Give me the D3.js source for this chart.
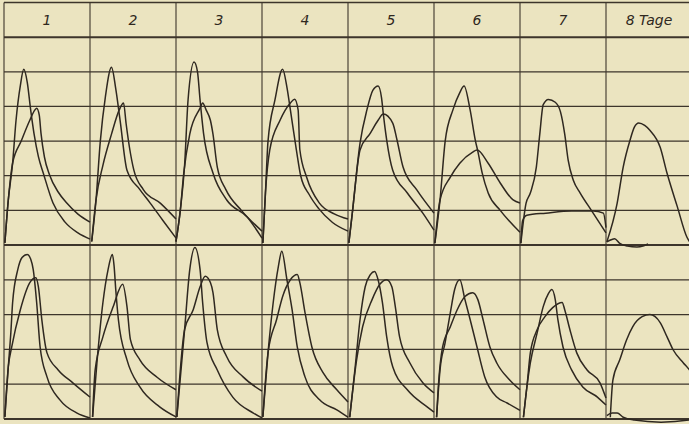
<!DOCTYPE html>
<html>
<head>
<meta charset="utf-8">
<script src="https://cdn.jsdelivr.net/npm/d3@7"></script>
<style>
  body { margin: 0; background: #ebe4c0; }
</style>
</head>
<body>
<div id="chart"></div>
<script>
// column headers (days)
const dayLabels = ["1", "2", "3", "4", "5", "6", "7", "8 Tage"];

// each day: [fraction of day, height in grid units]
// upper row, sharp early curve
const upperA = [
    [[0.01, 0.06], [0.05, 1.3], [0.1, 2.36], [0.14, 3.6], [0.19, 4.6], [0.23, 5.07], [0.27, 4.7], [0.31, 3.9], [0.35, 3.2], [0.4, 2.55], [0.46, 2.05], [0.57, 1.21], [0.71, 0.66], [0.86, 0.35], [1.0, 0.17]],
    [[0.02, 0.1], [0.07, 1.3], [0.12, 3.0], [0.18, 4.3], [0.25, 5.13], [0.3, 4.5], [0.35, 3.6], [0.43, 2.16], [0.58, 1.6], [0.7, 1.21], [0.85, 0.7], [1.0, 0.2]],
    [[0.0, 0.1], [0.05, 1.0], [0.1, 2.3], [0.14, 4.18], [0.21, 5.28], [0.25, 5.0], [0.28, 4.18], [0.32, 3.23], [0.43, 2.08], [0.59, 1.3], [0.83, 0.8], [1.0, 0.2]],
    [[0.01, 0.06], [0.04, 1.5], [0.07, 3.0], [0.15, 4.18], [0.24, 5.07], [0.29, 4.55], [0.33, 3.9], [0.4, 2.74], [0.45, 2.0], [0.55, 1.45], [0.66, 1.05], [0.82, 0.65], [1.0, 0.4]],
    [[0.01, 0.06], [0.05, 0.92], [0.14, 2.94], [0.22, 3.9], [0.29, 4.47], [0.35, 4.59], [0.39, 4.25], [0.41, 3.8], [0.45, 3.03], [0.52, 2.16], [0.69, 1.5], [0.87, 0.92], [1.0, 0.43]],
    [[0.01, 0.05], [0.07, 1.3], [0.13, 3.0], [0.22, 3.9], [0.3, 4.4], [0.35, 4.59], [0.42, 3.9], [0.48, 3.03], [0.51, 2.7], [0.56, 2.08], [0.63, 1.5], [0.77, 1.0], [1.0, 0.37]],
    [[0.01, 0.05], [0.07, 1.2], [0.12, 1.5], [0.19, 2.25], [0.23, 3.2], [0.27, 4.05], [0.33, 4.2], [0.41, 4.12], [0.47, 3.85], [0.52, 3.2], [0.56, 2.45], [0.62, 1.87], [0.7, 1.5], [0.83, 1.0], [1.0, 0.35]],
    [[0.01, 0.09], [0.13, 1.21], [0.2, 2.25], [0.28, 3.03], [0.33, 3.4], [0.38, 3.52], [0.45, 3.45], [0.51, 3.31], [0.63, 2.82], [0.71, 2.07], [0.83, 1.1], [0.94, 0.23], [1.0, 0.0]]
];

// upper row, later flatter curve
const upperB = [
    [[0.01, 0.06], [0.05, 1.3], [0.1, 2.36], [0.2, 3.0], [0.3, 3.6], [0.36, 3.9], [0.38, 3.95], [0.41, 3.75], [0.43, 3.23], [0.47, 2.54], [0.53, 2.02], [0.63, 1.53], [0.73, 1.21], [0.86, 0.89], [1.0, 0.66]],
    [[0.02, 0.1], [0.07, 1.3], [0.15, 2.3], [0.25, 3.2], [0.34, 3.9], [0.39, 4.1], [0.42, 3.5], [0.46, 2.8], [0.51, 2.16], [0.62, 1.6], [0.82, 1.2], [1.0, 0.75]],
    [[0.0, 0.1], [0.05, 1.0], [0.09, 2.07], [0.16, 3.2], [0.28, 3.95], [0.31, 4.1], [0.35, 3.9], [0.4, 3.6], [0.43, 3.2], [0.48, 2.25], [0.58, 1.6], [0.76, 1.0], [1.0, 0.4]],
    [[0.01, 0.06], [0.04, 1.5], [0.09, 2.74], [0.21, 3.6], [0.33, 4.1], [0.38, 4.21], [0.42, 3.9], [0.44, 2.75], [0.52, 1.95], [0.67, 1.2], [0.84, 0.9], [1.0, 0.75]],
    [[0.01, 0.06], [0.05, 0.92], [0.14, 2.74], [0.26, 3.23], [0.35, 3.6], [0.41, 3.78], [0.52, 3.52], [0.57, 3.03], [0.64, 2.25], [0.8, 1.59], [1.0, 0.92]],
    [[0.01, 0.05], [0.07, 1.3], [0.19, 1.96], [0.3, 2.36], [0.45, 2.68], [0.5, 2.74], [0.63, 2.36], [0.77, 1.79], [0.92, 1.3], [1.0, 1.21]],
    [[0.01, 0.05], [0.03, 0.7], [0.08, 0.86], [0.3, 0.92], [0.6, 0.98], [0.85, 0.98], [0.97, 0.92], [1.0, 0.5]],
    [[0.01, 0.09], [0.06, 0.15], [0.1, 0.18], [0.16, 0.05], [0.25, -0.03], [0.36, -0.06], [0.44, -0.02], [0.49, 0.03]]
];

// lower row, sharp early curve
const lowerA = [
    [[0.01, 0.06], [0.05, 1.5], [0.08, 2.5], [0.1, 3.34], [0.16, 4.29], [0.21, 4.64], [0.27, 4.73], [0.31, 4.6], [0.34, 4.29], [0.38, 3.34], [0.42, 2.07], [0.5, 1.21], [0.65, 0.55], [0.85, 0.17], [1.0, 0.03]],
    [[0.03, 0.06], [0.08, 1.6], [0.15, 3.34], [0.21, 4.29], [0.26, 4.73], [0.28, 4.4], [0.3, 3.7], [0.33, 2.86], [0.43, 1.7], [0.58, 0.92], [0.81, 0.35], [1.0, 0.06]],
    [[0.01, 0.06], [0.1, 2.57], [0.16, 4.29], [0.22, 4.93], [0.28, 4.29], [0.31, 3.34], [0.36, 2.2], [0.48, 1.41], [0.66, 0.63], [0.9, 0.17], [1.0, 0.03]],
    [[0.01, 0.06], [0.07, 1.9], [0.13, 3.34], [0.19, 4.38], [0.23, 4.82], [0.29, 4.0], [0.35, 3.14], [0.41, 2.07], [0.5, 1.21], [0.67, 0.55], [0.87, 0.26], [1.0, 0.05]],
    [[0.02, 0.05], [0.08, 1.41], [0.14, 2.86], [0.2, 3.8], [0.26, 4.15], [0.31, 4.24], [0.35, 4.0], [0.4, 3.35], [0.45, 2.36], [0.52, 1.5], [0.69, 0.84], [0.92, 0.35], [1.0, 0.2]],
    [[0.03, 0.05], [0.07, 1.41], [0.13, 2.2], [0.19, 3.06], [0.24, 3.72], [0.3, 4.0], [0.36, 3.43], [0.42, 2.86], [0.5, 2.07], [0.59, 1.21], [0.73, 0.63], [0.85, 0.46], [1.0, 0.25]],
    [[0.04, 0.05], [0.08, 0.92], [0.12, 1.61], [0.2, 2.48], [0.27, 3.23], [0.33, 3.6], [0.37, 3.72], [0.41, 3.43], [0.44, 2.86], [0.5, 2.07], [0.6, 1.41], [0.73, 0.92], [0.9, 0.63], [1.0, 0.4]],
    [[0.05, 0.05], [0.08, 1.12], [0.16, 1.7], [0.24, 2.28], [0.31, 2.65], [0.42, 2.94], [0.51, 3.0], [0.63, 2.77], [0.71, 2.36], [0.78, 1.99], [0.9, 1.61], [0.97, 1.41], [1.0, 1.3]]
];

// lower row, later curve
const lowerB = [
    [[0.01, 0.06], [0.05, 1.5], [0.09, 2.07], [0.19, 3.14], [0.3, 3.92], [0.37, 4.06], [0.4, 3.8], [0.44, 2.85], [0.5, 1.9], [0.63, 1.41], [0.8, 1.04], [1.0, 0.63]],
    [[0.03, 0.06], [0.06, 1.41], [0.15, 2.36], [0.27, 3.23], [0.38, 3.87], [0.43, 3.23], [0.47, 2.28], [0.58, 1.7], [0.78, 1.2], [1.0, 0.84]],
    [[0.01, 0.06], [0.1, 2.57], [0.2, 3.14], [0.28, 3.8], [0.34, 4.1], [0.4, 3.92], [0.43, 3.63], [0.48, 2.57], [0.59, 1.79], [0.78, 1.21], [1.0, 0.8]],
    [[0.01, 0.06], [0.07, 1.9], [0.17, 2.86], [0.24, 3.52], [0.33, 4.0], [0.41, 4.15], [0.44, 3.92], [0.5, 3.06], [0.58, 2.07], [0.71, 1.33], [0.87, 0.84], [1.0, 0.49]],
    [[0.02, 0.05], [0.1, 1.7], [0.17, 2.65], [0.28, 3.43], [0.37, 3.87], [0.45, 4.0], [0.51, 3.8], [0.55, 3.23], [0.6, 2.36], [0.72, 1.61], [0.87, 1.04], [1.0, 0.75]],
    [[0.03, 0.05], [0.05, 0.92], [0.1, 2.07], [0.19, 2.65], [0.27, 3.14], [0.36, 3.52], [0.45, 3.63], [0.51, 3.43], [0.57, 2.86], [0.65, 2.07], [0.73, 1.61], [0.88, 1.12], [1.0, 0.84]],
    [[0.04, 0.05], [0.08, 0.92], [0.12, 1.9], [0.2, 2.57], [0.29, 2.94], [0.38, 3.2], [0.49, 3.35], [0.52, 3.14], [0.58, 2.57], [0.66, 1.9], [0.78, 1.41], [0.93, 1.04], [1.0, 0.6]],
    [[0.01, 0.1], [0.07, 0.17], [0.13, 0.17], [0.2, 0.05], [0.33, -0.03], [0.64, -0.09], [0.97, -0.03], [1.0, 0.0]]
];

const width = 689;
const height = 424;
const ink = "#2f2820";

const svg = d3.select("#chart")
    .append("svg")
    .attr("width", width)
    .attr("height", height);

svg.append("rect")
    .attr("width", width)
    .attr("height", height)
    .attr("fill", "#ebe4c0");

const x = d3.scaleLinear().domain([0, 8]).range([4, 692]);
const yUpper = d3.scaleLinear().domain([0, 7]).range([245, 2.5]);
const yLower = d3.scaleLinear().domain([0, 5]).range([419, 245]);

// horizontal grid
const grid = svg.append("g").attr("stroke", "#3d352b").attr("fill", "none");

grid.selectAll("line.hu")
    .data(d3.range(1, 8))
    .join("line")
    .attr("x1", x(0))
    .attr("x2", width)
    .attr("y1", (d) => yUpper(d))
    .attr("y2", (d) => yUpper(d))
    .attr("stroke-width", (d) => (d === 6 ? 2 : 1.3));

grid.selectAll("line.hl")
    .data(d3.range(0, 6))
    .join("line")
    .attr("x1", x(0))
    .attr("x2", width)
    .attr("y1", (d) => yLower(d))
    .attr("y2", (d) => yLower(d))
    .attr("stroke-width", (d) => (d === 0 || d === 5 ? 2 : 1.3));

// day columns
grid.selectAll("line.v")
    .data(d3.range(0, 9))
    .join("line")
    .attr("x1", (d) => x(d))
    .attr("x2", (d) => x(d))
    .attr("y1", yUpper(7))
    .attr("y2", yLower(0))
    .attr("stroke-width", 1.1);

svg.selectAll("text.day")
    .data(dayLabels)
    .join("text")
    .attr("class", "day")
    .attr("x", (d, i) => x(i + 0.5))
    .attr("y", 25)
    .attr("text-anchor", "middle")
    .attr("font-family", "DejaVu Sans")
    .attr("font-style", "italic")
    .attr("font-size", 14)
    .attr("fill", ink)
    .text((d) => d);

function drawRow(series, yScale) {
    series.forEach((pts, day) => {
        const line = d3.line()
            .x((p) => x(day + p[0]))
            .y((p) => yScale(p[1]))
            .curve(d3.curveMonotoneX);
        svg.append("path")
            .datum(pts)
            .attr("d", line)
            .attr("fill", "none")
            .attr("stroke", ink)
            .attr("stroke-width", 1.5)
            .attr("stroke-linejoin", "round");
    });
}

drawRow(upperA, yUpper);
drawRow(upperB, yUpper);
drawRow(lowerA, yLower);
drawRow(lowerB, yLower);
</script>
</body>
</html>
